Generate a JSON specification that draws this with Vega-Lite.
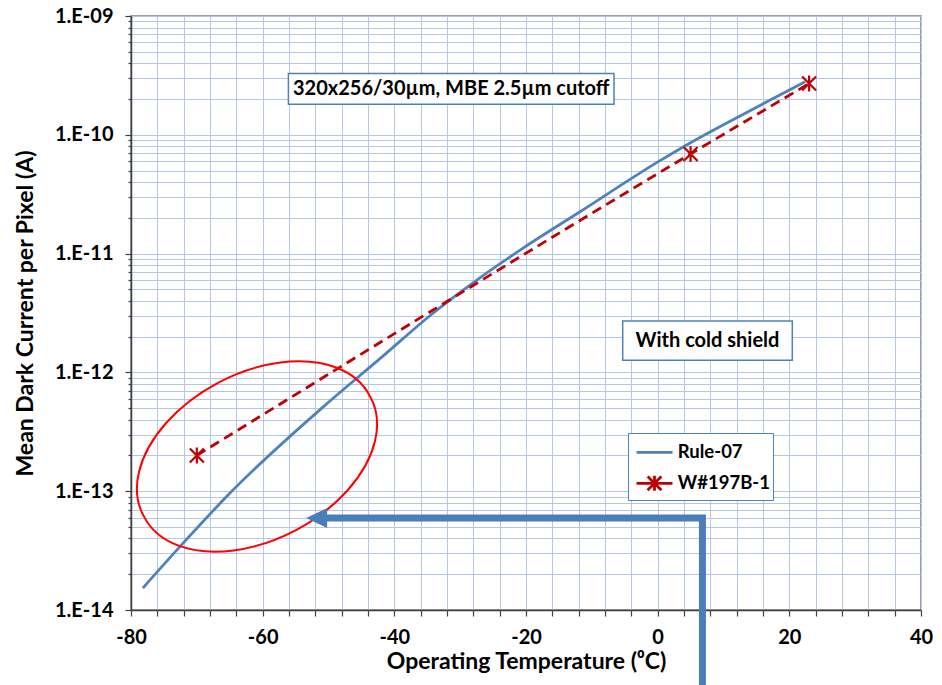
{
  "$schema": "https://vega.github.io/schema/vega-lite/v6.json",
  "width": 790,
  "height": 594,
  "autosize": {"type": "none"},
  "padding": {"left": 131, "top": 16, "right": 21, "bottom": 75},
  "background": "white",
  "config": {
    "view": {"stroke": "#7F7F7F", "strokeWidth": 1.5},
    "font": "Lato",
    "axis": {
      "labelFont": "Lato", "labelFontWeight": "bold", "labelFontSize": 20, "labelColor": "#000000",
      "titleFont": "Lato", "titleFontWeight": "bold", "titleFontSize": 23, "titleColor": "#000000",
      "gridColor": "#B4C8E6", "gridWidth": 1, "gridOpacity": 1,
      "domainColor": "#404040", "domainWidth": 1.5, "tickColor": "#404040", "tickWidth": 1.2
    }
  },
  "datasets": {
    "curves": [
      {"series": "Rule-07", "T": -78.2, "I": 1.53e-14},
      {"series": "Rule-07", "T": -72.05, "I": 3.67e-14},
      {"series": "Rule-07", "T": -65.0, "I": 9.6e-14},
      {"series": "Rule-07", "T": -50.0, "I": 5.6e-13},
      {"series": "Rule-07", "T": -42.0, "I": 1.33e-12},
      {"series": "Rule-07", "T": -34.6, "I": 3.0e-12},
      {"series": "Rule-07", "T": -28.0, "I": 5.7e-12},
      {"series": "Rule-07", "T": -20.9, "I": 1.07e-11},
      {"series": "Rule-07", "T": -11.8, "I": 2.25e-11},
      {"series": "Rule-07", "T": 0.1, "I": 5.94e-11},
      {"series": "Rule-07", "T": 4.2, "I": 8.1e-11},
      {"series": "Rule-07", "T": 17.1, "I": 1.96e-10},
      {"series": "Rule-07", "T": 22.4, "I": 2.8e-10},
      {"series": "W#197B-1", "T": -70, "I": 2.0e-13},
      {"series": "W#197B-1", "T": 5, "I": 6.9e-11},
      {"series": "W#197B-1", "T": 23, "I": 2.7e-10}
    ],
    "arrow": [
      {"ord": 1, "T": 6.8, "I": 2.34e-15},
      {"ord": 2, "T": 6.8, "I": 5.94e-14},
      {"ord": 3, "T": -50.6, "I": 5.94e-14}
    ]
  },
  "encoding": {
    "x": {
      "field": "T", "type": "quantitative",
      "scale": {"domain": [-80, 40], "nice": false, "zero": false},
      "axis": {
        "title": "Operating Temperature (⁰C)",
        "values": [-80,-76,-72,-68,-64,-60,-56,-52,-48,-44,-40,-36,-32,-28,-24,-20,-16,-12,-8,-4,0,4,8,12,16,20,24,28,32,36,40],
        "labelExpr": "datum.value % 20 === 0 ? '' + datum.value : ''",
        "labelFlush": false, "labelOverlap": false,
        "tickSize": 6, "labelPadding": 11, "titlePadding": 3, "grid": true
      }
    },
    "y": {
      "field": "I", "type": "quantitative",
      "scale": {"type": "log", "domain": [1e-14, 1e-9], "nice": false},
      "axis": {
        "title": "Mean Dark Current per Pixel (A)",
        "values": [1e-14,2e-14,3e-14,4e-14,5e-14,6e-14,7e-14,8e-14,9e-14,1e-13,2e-13,3e-13,4e-13,5e-13,6e-13,7e-13,8e-13,9e-13,1e-12,2e-12,3e-12,4e-12,5e-12,6e-12,7e-12,8e-12,9e-12,1e-11,2e-11,3e-11,4e-11,5e-11,6e-11,7e-11,8e-11,9e-11,1e-10,2e-10,3e-10,4e-10,5e-10,6e-10,7e-10,8e-10,9e-10,1e-9],
        "labelExpr": "abs(log(datum.value)/LN10 - round(log(datum.value)/LN10)) < 0.001 ? ('1.E-' + (round(-log(datum.value)/LN10) < 10 ? '0' : '') + round(-log(datum.value)/LN10)) : ''",
        "tickSize": {"condition": {"test": "abs(log(datum.value)/LN10 - round(log(datum.value)/LN10)) < 0.001", "value": 6}, "value": 3},
        "labelFlush": false, "labelOverlap": false,
        "labelPadding": 12, "titlePadding": 17, "grid": true
      }
    },
    "color": {
      "field": "series", "type": "nominal",
      "scale": {"domain": ["Rule-07", "W#197B-1"], "range": ["#4F81BD", "#C00000"]},
      "legend": {
        "title": null, "orient": "none", "legendX": 497, "legendY": 417,
        "fillColor": "white", "strokeColor": "#4F81BD", "padding": 2.8,
        "symbolSize": 900, "rowPadding": 5, "labelOffset": 14,
        "labelFont": "Lato", "labelFontWeight": "bold", "labelFontSize": 18.5, "labelColor": "#000000",
        "symbolStrokeWidth": 2.8, "symbolDash": [1, 0],
        "encode": {
          "symbols": {
            "update": {
              "shape": {"signal": "datum.value === 'Rule-07' ? 'M -0.72 0 L 1.68 0' : 'M -0.72 0 L 1.68 0 M 0.02 -0.46 L 0.94 0.46 M 0.02 0.46 L 0.94 -0.46 M 0.48 -0.5 L 0.48 0.5'"},
              "strokeDash": {"value": [1, 0]},
              "fill": {"value": "transparent"}
            }
          }
        }
      }
    }
  },
  "layer": [
    {
      "data": {"name": "curves"},
      "transform": [{"filter": "datum.series === 'Rule-07'"}],
      "mark": {"type": "line", "interpolate": "monotone", "strokeWidth": 2.8}
    },
    {
      "data": {"name": "curves"},
      "transform": [{"filter": "datum.series === 'W#197B-1'"}],
      "mark": {"type": "line", "interpolate": "monotone", "strokeWidth": 2.8, "strokeDash": [10, 6]}
    },
    {
      "data": {"name": "curves"},
      "transform": [{"filter": "datum.series === 'W#197B-1'"}],
      "mark": {"type": "point", "shape": "M -7 -7 L 7 7 M -7 7 L 7 -7 M 0 -8 L 0 8", "size": 4, "filled": false, "stroke": "#C00000", "strokeWidth": 2.2, "opacity": 1},
      "encoding": {"color": null}
    },
    {
      "data": {"values": [{"T": -60.86, "I": 1.96e-13}]},
      "mark": {"type": "point", "shape": "M -113.1 59.9 A 128 82 -27.9 1 1 113.1 -59.9 A 128 82 -27.9 1 1 -113.1 59.9 Z", "size": 4, "filled": false, "stroke": "#FF0000", "strokeWidth": 2, "opacity": 1, "clip": false},
      "encoding": {"color": null}
    },
    {
      "data": {"name": "arrow"},
      "mark": {"type": "line", "color": "#4A7EBB", "strokeWidth": 7, "strokeCap": "butt", "strokeJoin": "miter", "clip": false},
      "encoding": {"order": {"field": "ord", "type": "quantitative"}, "color": null}
    },
    {
      "data": {"values": [{"T": -51.8, "I": 5.94e-14}]},
      "mark": {"type": "point", "shape": "M -10.5 0 L 10.5 -10 L 10.5 10 Z", "size": 4, "filled": true, "fill": "#4A7EBB", "opacity": 1},
      "encoding": {"color": null}
    },
    {
      "data": {"values": [{"T": -31.36, "I": 2.44e-10, "txt": "320x256/30µm, MBE 2.5µm cutoff"}]},
      "encoding": {"color": null},
      "layer": [
        {"mark": {"type": "point", "shape": "M -162.8 -15.4 L 162.8 -15.4 L 162.8 15.4 L -162.8 15.4 Z", "size": 4, "filled": true, "fill": "white", "stroke": "#4F81BD", "strokeWidth": 1.5, "opacity": 1}},
        {"mark": {"type": "text", "font": "Lato", "fontWeight": "bold", "fontSize": 20, "color": "#000000", "baseline": "middle", "align": "center"}, "encoding": {"text": {"field": "txt"}}}
      ]
    },
    {
      "data": {"values": [{"T": 7.57, "I": 1.85e-12, "txt": "With cold shield"}]},
      "encoding": {"color": null},
      "layer": [
        {"mark": {"type": "point", "shape": "M -84.8 -19.6 L 84.8 -19.6 L 84.8 19.6 L -84.8 19.6 Z", "size": 4, "filled": true, "fill": "white", "stroke": "#4F81BD", "strokeWidth": 1.5, "opacity": 1}},
        {"mark": {"type": "text", "font": "Lato", "fontWeight": "bold", "fontSize": 20, "color": "#000000", "baseline": "middle", "align": "center"}, "encoding": {"text": {"field": "txt"}}}
      ]
    }
  ]
}
